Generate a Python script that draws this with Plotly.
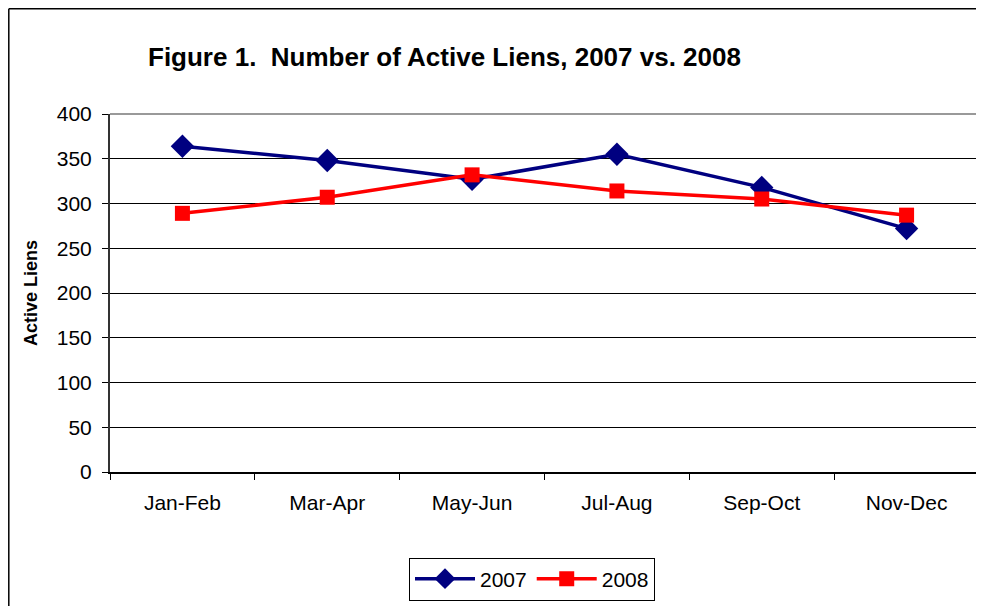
import plotly.graph_objects as go

categories = ["Jan-Feb", "Mar-Apr", "May-Jun", "Jul-Aug", "Sep-Oct", "Nov-Dec"]
liens_2007 = [364, 348, 327, 355, 318, 272]
liens_2008 = [289, 307, 332, 314, 305, 287]
y_ticks = [0, 50, 100, 150, 200, 250, 300, 350, 400]

OFF = 8  # browser default body margin
W, H = 984 - OFF, 606 - OFF
L, R, T, B = 110 - OFF, 979 - OFF, 114 - OFF, 472 - OFF

def px_x(p):
    return (p - OFF - L) / (R - L)

def px_y(p):
    return (B - (p - OFF)) / (B - T)

fig = go.Figure()
fig.add_trace(go.Scatter(
    x=categories, y=liens_2007, name="2007", mode="lines+markers",
    line=dict(color="#000080", width=3.5),
    marker=dict(symbol="diamond", size=18, color="#000080"),
))
fig.add_trace(go.Scatter(
    x=categories, y=liens_2008, name="2008", mode="lines+markers",
    line=dict(color="#FF0000", width=3.5),
    marker=dict(symbol="square", size=15, color="#FF0000"),
))

font_family = "Liberation Sans, Arial, sans-serif"

fig.update_layout(
    width=W, height=H,
    margin=dict(l=L, r=W - R, t=T, b=H - B, pad=0),
    paper_bgcolor="white", plot_bgcolor="white",
    font=dict(family=font_family, color="black", size=20),
    showlegend=True,
    legend=dict(
        orientation="h", x=px_x(532), y=px_y(579), xanchor="center", yanchor="middle",
        bordercolor="black", borderwidth=1, bgcolor="white",
        font=dict(size=21, family=font_family),
        tracegroupgap=0, itemwidth=60,
    ),
    xaxis=dict(
        type="category", range=[-0.5, 5.5],
        showgrid=False, showline=True, linecolor="black", linewidth=1.5,
        ticks="outside", tickson="boundaries", ticklen=6, tickcolor="black",
        tickfont=dict(size=21), ticklabelstandoff=11,
    ),
    yaxis=dict(
        range=[0, 400], tickvals=y_ticks, ticktext=[str(v) for v in y_ticks],
        showgrid=True, gridcolor="black", gridwidth=1,
        showline=True, linecolor="#333333", linewidth=2,
        ticks="outside", ticklen=6, tickcolor="black",
        tickfont=dict(size=21), ticklabelstandoff=6,
        title=dict(text="<b>Active Liens</b>", font=dict(size=18), standoff=14),
        zeroline=False,
    ),
    shapes=[
        dict(type="line", xref="paper", yref="paper", x0=0, x1=1, y0=1, y1=1,
             line=dict(color="#999999", width=2)),
        dict(type="line", xref="paper", yref="paper", x0=1, x1=1, y0=0, y1=1,
             line=dict(color="#999999", width=2)),
        # outer chart frame: top and left edges only
        dict(type="line", xref="paper", yref="paper",
             x0=px_x(8.8), x1=px_x(984), y0=px_y(8.8), y1=px_y(8.8),
             line=dict(color="black", width=1.5), layer="below"),
        dict(type="line", xref="paper", yref="paper",
             x0=px_x(8.8), x1=px_x(8.8), y0=px_y(8.8), y1=px_y(606),
             line=dict(color="black", width=1.5), layer="below"),
    ],
    annotations=[
        dict(text="<b>Figure 1.\u00a0 Number of Active Liens, 2007 vs. 2008</b>",
             xref="paper", yref="paper", x=px_x(146), y=px_y(57),
             xanchor="left", yanchor="middle", showarrow=False,
             font=dict(size=26, family=font_family, color="black")),
    ],
)

fig.write_html("out.html")
